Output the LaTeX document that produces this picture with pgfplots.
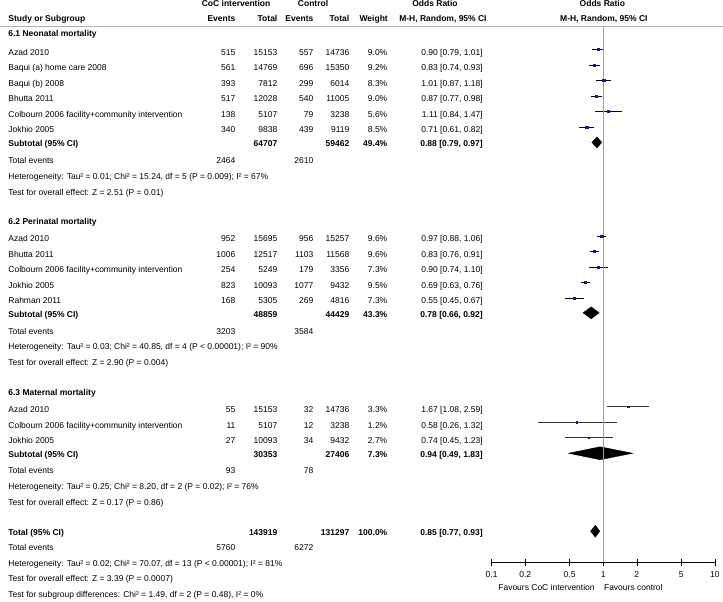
\documentclass[border=0pt]{standalone}
\usepackage{fontspec}
\setmainfont{Liberation Sans}
\usepackage{pgfplots}
\pgfplotsset{compat=1.18}
\definecolor{sq}{RGB}{25,25,140}
\newcommand{\Lt}[3]{\node[anchor=base west] at (#1pt,-#2pt-3pt) {#3};}
\newcommand{\Rt}[3]{\node[anchor=base east] at (#1pt,-#2pt-3pt) {#3};}
\newcommand{\Ct}[3]{\node[anchor=base] at (#1pt,-#2pt-3pt) {#3};}
\newcommand{\study}[8]{\Lt{8}{#1}{#2}\Rt{235.5}{#1}{#3}\Rt{277.5}{#1}{#4}\Rt{313.5}{#1}{#5}\Rt{349.5}{#1}{#6}\Rt{387.5}{#1}{#7}\Rt{483}{#1}{#8}}
\begin{document}
\begin{tikzpicture}[every node/.style={font=\fontsize{8.5}{10}\selectfont, inner sep=0pt}]
\path (0,0) rectangle (723pt,-602pt);
% header
\Ct{236}{4}{\bfseries CoC intervention}
\Ct{313}{4}{\bfseries Control}
\Ct{435}{4}{\bfseries Odds Ratio}
\Ct{602.5}{4}{\bfseries Odds Ratio}
\Lt{8}{19}{\bfseries Study or Subgroup}
\Rt{235.5}{19}{\bfseries Events}
\Rt{277.5}{19}{\bfseries Total}
\Rt{313.5}{19}{\bfseries Events}
\Rt{349.5}{19}{\bfseries Total}
\Rt{388}{19}{\bfseries Weight}
\Ct{443}{19}{\bfseries M-H, Random, 95\% CI}
\Ct{604}{19}{\bfseries M-H, Random, 95\% CI}
\draw[gray!60, line width=0.4pt] (0,-26pt) -- (723pt,-26pt);
% 6.1
\Lt{8}{34}{\bfseries 6.1 Neonatal mortality}
\study{52.5}{Azad 2010}{515}{15153}{557}{14736}{9.0\%}{0.90 [0.79, 1.01]}
\study{68}{Baqui (a) home care 2008}{561}{14769}{696}{15350}{9.2\%}{0.83 [0.74, 0.93]}
\study{83.5}{Baqui (b) 2008}{393}{7812}{299}{6014}{8.3\%}{1.01 [0.87, 1.18]}
\study{99}{Bhutta 2011}{517}{12028}{540}{11005}{9.0\%}{0.87 [0.77, 0.98]}
\study{114.5}{Colbourn 2006 facility+community intervention}{138}{5107}{79}{3238}{5.6\%}{1.11 [0.84, 1.47]}
\study{130}{Jokhio 2005}{340}{9838}{439}{9119}{8.5\%}{0.71 [0.61, 0.82]}
\study{143.5}{\bfseries Subtotal (95\% CI)}{}{\bfseries 64707}{}{\bfseries 59462}{\bfseries 49.4\%}{\bfseries 0.88 [0.79, 0.97]}
\Lt{8}{161}{Total events}\Rt{235.5}{161}{2464}\Rt{313.5}{161}{2610}
\Lt{8}{177}{Heterogeneity: Tau² = 0.01; Chi² = 15.24, df = 5 (P = 0.009); I² = 67\%}
\Lt{8}{192.5}{Test for overall effect: Z = 2.51 (P = 0.01)}
% 6.2
\Lt{8}{222}{\bfseries 6.2 Perinatal mortality}
\study{239}{Azad 2010}{952}{15695}{956}{15257}{9.6\%}{0.97 [0.88, 1.06]}
\study{254.5}{Bhutta 2011}{1006}{12517}{1103}{11568}{9.6\%}{0.83 [0.76, 0.91]}
\study{270}{Colbourn 2006 facility+community intervention}{254}{5249}{179}{3356}{7.3\%}{0.90 [0.74, 1.10]}
\study{285.5}{Jokhio 2005}{823}{10093}{1077}{9432}{9.5\%}{0.69 [0.63, 0.76]}
\study{301}{Rahman 2011}{168}{5305}{269}{4816}{7.3\%}{0.55 [0.45, 0.67]}
\study{314.5}{\bfseries Subtotal (95\% CI)}{}{\bfseries 48859}{}{\bfseries 44429}{\bfseries 43.3\%}{\bfseries 0.78 [0.66, 0.92]}
\Lt{8}{331.5}{Total events}\Rt{235.5}{331.5}{3203}\Rt{313.5}{331.5}{3584}
\Lt{8}{347}{Heterogeneity: Tau² = 0.03; Chi² = 40.85, df = 4 (P < 0.00001); I² = 90\%}
\Lt{8}{363}{Test for overall effect: Z = 2.90 (P = 0.004)}
% 6.3
\Lt{8}{393}{\bfseries 6.3 Maternal mortality}
\study{410}{Azad 2010}{55}{15153}{32}{14736}{3.3\%}{1.67 [1.08, 2.59]}
\study{425.5}{Colbourn 2006 facility+community intervention}{11}{5107}{12}{3238}{1.2\%}{0.58 [0.26, 1.32]}
\study{441}{Jokhio 2005}{27}{10093}{34}{9432}{2.7\%}{0.74 [0.45, 1.23]}
\study{454.5}{\bfseries Subtotal (95\% CI)}{}{\bfseries 30353}{}{\bfseries 27406}{\bfseries 7.3\%}{\bfseries 0.94 [0.49, 1.83]}
\Lt{8}{471}{Total events}\Rt{235.5}{471}{93}\Rt{313.5}{471}{78}
\Lt{8}{487}{Heterogeneity: Tau² = 0.25; Chi² = 8.20, df = 2 (P = 0.02); I² = 76\%}
\Lt{8}{502.5}{Test for overall effect: Z = 0.17 (P = 0.86)}
% total
\study{532.5}{\bfseries Total (95\% CI)}{}{\bfseries 143919}{}{\bfseries 131297}{\bfseries 100.0\%}{\bfseries 0.85 [0.77, 0.93]}
\Lt{8}{548}{Total events}\Rt{235.5}{548}{5760}\Rt{313.5}{548}{6272}
\Lt{8}{563.5}{Heterogeneity: Tau² = 0.02; Chi² = 70.07, df = 13 (P < 0.00001); I² = 81\%}
\Lt{8}{579}{Test for overall effect: Z = 3.39 (P = 0.0007)}
\Lt{8}{595}{Test for subgroup differences: Chi² = 1.49, df = 2 (P = 0.48), I² = 0\%}
% favours
\node[anchor=base east] at (595pt,-591pt) {Favours CoC intervention};
\node[anchor=base west] at (604pt,-591pt) {Favours control};
\begin{axis}[at={(491.7pt,0pt)}, anchor=north west, scale only axis,
  width=223.3pt, height=562.5pt, xmode=log, xmin=0.1, xmax=10,
  ymin=-562.5, ymax=0, axis x line*=bottom, axis y line=none,
  xtick={0.1,0.2,0.5,1,2,5,10}, xticklabels={0.1,0.2,0.5,1,2,5,10},
  xminorticks=false, xtick align=center, major tick length=7pt,
  x axis line style={-, line width=0.6pt},
  every tick/.style={black, line width=0.6pt},
  xticklabel style={font=\fontsize{8.5}{10}\selectfont, anchor=base, yshift=-11.5pt},
  clip=false, /pgf/number format/assume math mode=true]
% CIs, neonatal
\addplot[black, line width=0.6pt] coordinates {(0.79,-49.5) (1.01,-49.5)};
\addplot[black, line width=0.6pt] coordinates {(0.74,-65) (0.93,-65)};
\addplot[black, line width=0.6pt] coordinates {(0.87,-80.5) (1.18,-80.5)};
\addplot[black, line width=0.6pt] coordinates {(0.77,-96) (0.98,-96)};
\addplot[black, line width=0.6pt] coordinates {(0.84,-111.5) (1.47,-111.5)};
\addplot[black, line width=0.6pt] coordinates {(0.61,-127) (0.82,-127)};
% perinatal
\addplot[black, line width=0.6pt] coordinates {(0.88,-236) (1.06,-236)};
\addplot[black, line width=0.6pt] coordinates {(0.76,-251.5) (0.91,-251.5)};
\addplot[black, line width=0.6pt] coordinates {(0.74,-267) (1.10,-267)};
\addplot[black, line width=0.6pt] coordinates {(0.63,-282.5) (0.76,-282.5)};
\addplot[black, line width=0.6pt] coordinates {(0.45,-298) (0.67,-298)};
% maternal
\addplot[black!80, line width=0.6pt] coordinates {(1.08,-407) (2.59,-407)};
\addplot[black!80, line width=0.6pt] coordinates {(0.26,-422.5) (1.32,-422.5)};
\addplot[black!80, line width=0.6pt] coordinates {(0.45,-438) (1.23,-438)};
% point estimates
\addplot[only marks, mark=square*, mark size=1.1pt, color=sq] coordinates {
 (0.90,-49.5) (0.83,-65) (1.01,-80.5) (0.87,-96) (1.11,-111.5) (0.71,-127)
 (0.97,-236) (0.83,-251.5) (0.90,-267) (0.69,-282.5) (0.55,-298)};
\addplot[only marks, mark=square*, mark size=0.8pt, color=sq] coordinates {
 (1.67,-407) (0.58,-422.5) (0.74,-438)};
% diamonds
\addplot[fill=black, draw=black] coordinates {(0.79,-142.5) (0.88,-137) (0.97,-142.5) (0.88,-148)} -- cycle;
\addplot[fill=black, draw=black] coordinates {(0.66,-313) (0.78,-307) (0.92,-313) (0.78,-319)} -- cycle;
\addplot[fill=black, draw=black] coordinates {(0.49,-453.5) (0.94,-447) (1.83,-453.5) (0.94,-460)} -- cycle;
\addplot[fill=black, draw=black] coordinates {(0.77,-531.5) (0.85,-525.5) (0.93,-531.5) (0.85,-537.5)} -- cycle;
% line of no effect
\addplot[gray!75, line width=1.2pt] coordinates {(1,-27) (1,-562.5)};
\end{axis}
\end{tikzpicture}
\end{document}
